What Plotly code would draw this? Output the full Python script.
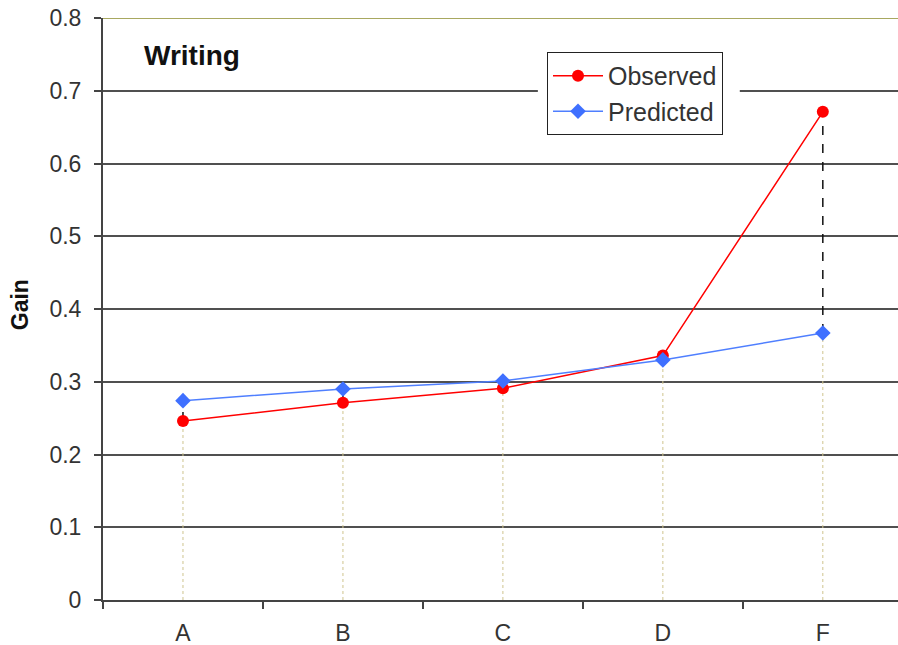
import plotly.graph_objects as go

# Gain by group: observed vs. predicted
groups = ["A", "B", "C", "D", "F"]
observed = [0.246, 0.271, 0.291, 0.336, 0.671]
predicted = [0.274, 0.290, 0.301, 0.330, 0.367]
y_ticks = [0, 0.1, 0.2, 0.3, 0.4, 0.5, 0.6, 0.7, 0.8]
y_tick_text = ["0", "0.1", "0.2", "0.3", "0.4", "0.5", "0.6", "0.7", "0.8"]

FONT = "Liberation Sans, Arial, sans-serif"
TEXT = "#333333"

fig = go.Figure()

# drop lines from the lower point of each pair down to the axis
for g, o, p in zip(groups, observed, predicted):
    fig.add_trace(go.Scatter(
        x=[g, g], y=[0, min(o, p)], mode="lines",
        line=dict(color="#cfc48e", width=1, dash="dot"),
        showlegend=False, hoverinfo="skip"))

# high-low lines between the two series
for g, o, p in zip(groups, observed, predicted):
    fig.add_trace(go.Scatter(
        x=[g, g], y=[min(o, p), max(o, p)], mode="lines",
        line=dict(color="#111111", width=1.5, dash="dash"),
        showlegend=False, hoverinfo="skip"))

fig.add_trace(go.Scatter(
    x=groups, y=observed, name="Observed", mode="lines+markers",
    line=dict(color="#ff0000", width=1.5),
    marker=dict(symbol="circle", size=12, color="#ff0000")))

fig.add_trace(go.Scatter(
    x=groups, y=predicted, name="Predicted", mode="lines+markers",
    line=dict(color="#4f7fff", width=1.5),
    marker=dict(symbol="diamond", size=12, color="#3f70ff")))

# clear the gridlines around the legend box
fig.add_shape(type="rect", xref="paper", yref="paper",
              x0=0.547, x1=0.801, y0=0.812, y1=0.944,
              fillcolor="white", line=dict(width=0), layer="above")

# top gridline in olive
fig.add_shape(type="line", xref="paper", yref="y",
              x0=0, x1=1, y0=0.8, y1=0.8,
              line=dict(color="#a8a860", width=2), layer="above")

fig.add_annotation(text="<b>Writing</b>", xref="paper", yref="paper",
                   x=0.112, y=0.936, xanchor="center", yanchor="middle",
                   showarrow=False, font=dict(family=FONT, size=28, color="#111111"))

fig.add_annotation(text="<b>Gain</b>", xref="paper", yref="paper",
                   x=-0.104, y=0.507, xanchor="center", yanchor="middle",
                   textangle=-90, showarrow=False,
                   font=dict(family=FONT, size=23, color="#111111"))

fig.update_layout(
    width=898, height=645,
    margin=dict(l=103, r=0, t=18, b=45),
    paper_bgcolor="white", plot_bgcolor="white",
    font=dict(family=FONT, size=23, color=TEXT),
    showlegend=True,
    legend=dict(x=0.5585, y=0.9416, xanchor="left", yanchor="top",
                bgcolor="white", bordercolor="#222222", borderwidth=1,
                font=dict(family=FONT, size=25, color=TEXT),
                tracegroupgap=0, itemwidth=50),
    xaxis=dict(type="category", categoryorder="array", categoryarray=groups,
               range=[-0.5, 4.47], tickson="boundaries",
               ticks="outside", ticklen=7, tickwidth=2, tickcolor="#444444",
               showline=True, linecolor="#444444", linewidth=2,
               showgrid=False, zeroline=False, ticklabelstandoff=11,
               tickfont=dict(family=FONT, size=23, color=TEXT)),
    yaxis=dict(range=[0, 0.8], tickvals=y_ticks, ticktext=y_tick_text,
               ticks="outside", ticklen=7, tickwidth=2, tickcolor="#444444",
               showline=True, linecolor="#444444", linewidth=2,
               showgrid=True, gridcolor="#505050", gridwidth=2,
               zeroline=False, ticklabelstandoff=8,
               tickfont=dict(family=FONT, size=23, color=TEXT)),
)

fig.write_html("out.html")
